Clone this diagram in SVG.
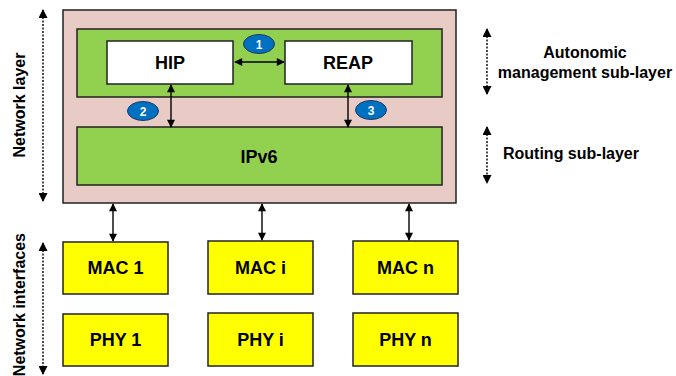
<svg xmlns="http://www.w3.org/2000/svg" width="676" height="376" viewBox="0 0 676 376">
<defs>
<marker id="ah" viewBox="0 0 10 10" refX="9" refY="5" markerWidth="9" markerHeight="8" orient="auto-start-reverse" markerUnits="userSpaceOnUse">
<path d="M0,0 L10,5 L0,10 z" fill="#000"/>
</marker>
<marker id="ahb" viewBox="0 0 10 10" refX="9" refY="5" markerWidth="12" markerHeight="9" orient="auto-start-reverse" markerUnits="userSpaceOnUse">
<path d="M0,0 L10,5 L0,10 z" fill="#000"/>
</marker>
</defs>
<style>
text{font-family:"Liberation Sans",Arial,sans-serif;font-weight:bold;fill:#000}
.box{stroke:#222;stroke-width:1.5}
.green{fill:#92d050}
.yellow{fill:#ffff00}
.white{fill:#fff}
.lbl{font-size:18px;text-anchor:middle}
.side{font-size:16px}
.conn{stroke:#000;stroke-width:1.4;fill:none;marker-start:url(#ah);marker-end:url(#ah)}
.dot{stroke:#000;stroke-width:1.4;fill:none;stroke-dasharray:2,1.5;marker-start:url(#ahb);marker-end:url(#ahb)}
.badge{fill:#0070c0;stroke:#1f3864;stroke-width:1}
.bt{font-size:12px;fill:#fff;text-anchor:middle}
</style>
<g id="network-layer">
<rect x="63" y="10" width="393" height="193" fill="#e9cbc6" class="box"/>
</g>
<g id="autonomic">
<rect x="77" y="29" width="365" height="68" class="box green"/>
</g>
<g id="hip">
<rect x="107" y="41" width="126" height="43" class="box white"/>
<text x="170" y="69" class="lbl">HIP</text>
</g>
<g id="reap">
<rect x="285" y="41" width="127" height="43" class="box white"/>
<text x="348" y="69" class="lbl">REAP</text>
</g>
<g id="ipv6">
<rect x="77" y="127" width="365" height="58" class="box green"/>
<text x="259" y="163" class="lbl">IPv6</text>
</g>
<g id="mac1"><rect x="63" y="242" width="105" height="52" class="box yellow"/><text x="115.5" y="274" class="lbl">MAC 1</text></g>
<g id="maci"><rect x="208" y="241" width="105" height="53" class="box yellow"/><text x="260.5" y="274" class="lbl">MAC i</text></g>
<g id="macn"><rect x="353" y="241" width="105" height="53" class="box yellow"/><text x="405.5" y="274" class="lbl">MAC n</text></g>
<g id="phy1"><rect x="63" y="314" width="105" height="52" class="box yellow"/><text x="115.5" y="346" class="lbl">PHY 1</text></g>
<g id="phyi"><rect x="208" y="313" width="105" height="53" class="box yellow"/><text x="260.5" y="346" class="lbl">PHY i</text></g>
<g id="phyn"><rect x="353" y="313" width="105" height="53" class="box yellow"/><text x="405.5" y="346" class="lbl">PHY n</text></g>
<g id="connectors">
<line x1="235" y1="62" x2="284" y2="62" class="conn"/>
<line x1="171" y1="85" x2="171" y2="127" class="conn"/>
<line x1="348" y1="85" x2="348" y2="127" class="conn"/>
<line x1="113" y1="204" x2="113" y2="241" class="conn"/>
<line x1="262" y1="204" x2="262" y2="240" class="conn"/>
<line x1="409" y1="204" x2="409" y2="240" class="conn"/>
</g>
<g id="badges">
<ellipse cx="259" cy="44" rx="15.5" ry="9.5" class="badge"/><text x="259" y="48.5" class="bt">1</text>
<ellipse cx="143" cy="111" rx="15.5" ry="9.5" class="badge"/><text x="143" y="115.5" class="bt">2</text>
<ellipse cx="371" cy="110" rx="15.5" ry="9.5" class="badge"/><text x="371" y="114.5" class="bt">3</text>
</g>
<g id="side-labels">
<line x1="43" y1="10" x2="43" y2="201" class="dot"/>
<text transform="translate(25,105) rotate(-90)" class="side" text-anchor="middle">Network layer</text>
<line x1="43" y1="243" x2="43" y2="374" class="dot"/>
<text transform="translate(25,233) rotate(-90)" class="side" text-anchor="end">Network interfaces</text>
<line x1="487" y1="29" x2="487" y2="94" class="dot"/>
<text x="585" y="58" class="side" text-anchor="middle">Autonomic</text>
<text x="585" y="78" class="side" text-anchor="middle">management sub-layer</text>
<line x1="487" y1="127" x2="487" y2="183" class="dot"/>
<text x="571" y="159" class="side" text-anchor="middle">Routing sub-layer</text>
</g>
</svg>
